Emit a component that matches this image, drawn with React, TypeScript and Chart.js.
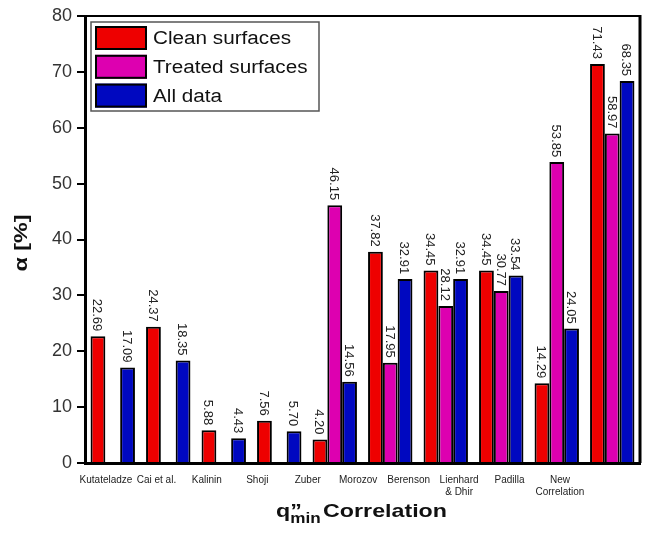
import { useEffect, useRef } from "react";
import { Chart, registerables } from "chart.js";

Chart.register(...registerables);

const categories: (string | string[])[] = [
  "Kutateladze",
  "Cai et al.",
  "Kalinin",
  "Shoji",
  "Zuber",
  "Morozov",
  "Berenson",
  ["Lienhard", "& Dhir"],
  "Padilla",
  ["New", "Correlation"],
];
const seriesNames = ["Clean surfaces", "Treated surfaces", "All data"];
const seriesColors = ["#ee0000", "#dd00b0", "#0008c0"];
const cleanSurfaces = [22.69, 24.37, 5.88, 7.56, 4.2, 37.82, 34.45, 34.45, 14.29, 71.43];
const treatedSurfaces = [null, null, null, null, 46.15, 17.95, 28.12, 30.77, 53.85, 58.97];
const allData = [17.09, 18.35, 4.43, 5.7, 14.56, 32.91, 32.91, 33.54, 24.05, 68.35];
const yTicks = [0, 10, 20, 30, 40, 50, 60, 70, 80];

const FONT = "'Liberation Sans', Arial, sans-serif";
const LABEL_MIN = -0.416;
const LABEL_MAX = 10.587;

const valueLabels = {
  id: "valueLabels",
  afterDatasetsDraw(chart: any) {
    const ctx = chart.ctx;
    ctx.save();
    ctx.font = `13px ${FONT}`;
    ctx.fillStyle = "#222";
    ctx.textAlign = "right";
    ctx.textBaseline = "middle";
    chart.data.datasets.forEach((ds: any, di: number) => {
      const meta = chart.getDatasetMeta(di);
      meta.data.forEach((el: any, i: number) => {
        const v = ds.data[i];
        if (v === null || v === undefined) return;
        ctx.save();
        ctx.translate(el.x - 1, el.y - 5);
        ctx.rotate(Math.PI / 2);
        ctx.fillText(v.toFixed(2), 0, 0);
        ctx.restore();
      });
    });
    ctx.restore();
  },
};

const frameAndTitles = {
  id: "frameAndTitles",
  afterDraw(chart: any) {
    const ctx = chart.ctx;
    const a = chart.chartArea;
    ctx.save();
    // frame top and right
    ctx.strokeStyle = "#000";
    ctx.lineWidth = 2;
    ctx.beginPath();
    ctx.moveTo(a.left, a.top);
    ctx.lineTo(a.right, a.top);
    ctx.stroke();
    ctx.lineWidth = 3;
    ctx.beginPath();
    ctx.moveTo(a.right, a.top - 1);
    ctx.lineTo(a.right, a.bottom);
    ctx.stroke();

    // legend
    const bx = 91, by = 22, bw = 228, bh = 89;
    ctx.fillStyle = "#fff";
    ctx.fillRect(bx, by, bw, bh);
    ctx.strokeStyle = "#555";
    ctx.lineWidth = 1.5;
    ctx.strokeRect(bx, by, bw, bh);
    ctx.font = `18px ${FONT}`;
    const sx = 138 / ctx.measureText(seriesNames[0]).width;
    seriesNames.forEach((name, i) => {
      const sy = 26 + i * 28.8;
      ctx.fillStyle = seriesColors[i];
      ctx.fillRect(95, sy, 52, 24);
      ctx.strokeStyle = "#000";
      ctx.lineWidth = 2;
      ctx.strokeRect(96, sy + 1, 50, 22);
      ctx.save();
      ctx.translate(153, sy + 13);
      ctx.scale(sx, 1);
      ctx.fillStyle = "#111";
      ctx.textAlign = "left";
      ctx.textBaseline = "middle";
      ctx.fillText(name, 0, 0);
      ctx.restore();
    });

    // y title
    ctx.save();
    ctx.font = `bold 18px ${FONT}`;
    const yt = "α [%]";
    const ytw = ctx.measureText(yt).width;
    ctx.translate(22, 243);
    ctx.rotate(-Math.PI / 2);
    ctx.scale(57 / ytw, 1);
    ctx.fillStyle = "#111";
    ctx.textAlign = "center";
    ctx.textBaseline = "middle";
    ctx.fillText(yt, 0, 0);
    ctx.restore();

    // x title: q''_min Correlation
    ctx.save();
    const big = `bold 19px ${FONT}`;
    const small = `bold 14px ${FONT}`;
    ctx.font = big;
    const wq = ctx.measureText("q").width;
    const wCorr = ctx.measureText("Correlation").width;
    ctx.font = small;
    const wmin = ctx.measureText("min").width;
    const natural = wq + wmin + 2 + wCorr;
    const s = 171 / natural;
    ctx.translate(361.5 - 171 / 2, 517);
    ctx.scale(s, 1);
    ctx.fillStyle = "#111";
    ctx.textAlign = "left";
    ctx.textBaseline = "alphabetic";
    ctx.font = big;
    ctx.fillText("q", 0, 0);
    ctx.fillText("\u201D", wq, 0);
    ctx.fillText("Correlation", wq + wmin + 2, 0);
    ctx.font = small;
    ctx.fillText("min", wq, 6);
    ctx.restore();

    ctx.restore();
  },
};

export default function App() {
  const ref = useRef<HTMLCanvasElement>(null);
  useEffect(() => {
    if (!ref.current) return;
    Chart.defaults.font.family = FONT;
    const series = [cleanSurfaces, treatedSurfaces, allData];
    const chart = new Chart(ref.current, {
      type: "bar",
      data: {
        labels: categories.map((c) => (Array.isArray(c) ? c.join(" ") : c)),
        datasets: series.map((d, i) => ({
          label: seriesNames[i],
          data: d as any,
          xAxisID: "x",
          yAxisID: "y",
          backgroundColor: seriesColors[i],
          borderColor: "#000",
          borderWidth: 2,
          categoryPercentage: 0.8,
          barPercentage: 1,
        })),
      },
      options: {
        responsive: false,
        animation: false,
        layout: { padding: { left: 0, top: 16, right: 5, bottom: 0 } },
        plugins: {
          legend: { display: false },
          tooltip: { enabled: false },
        },
        scales: {
          x: { type: "category", display: false, offset: true },
          xl: {
            type: "linear",
            position: "bottom",
            offset: false,
            bounds: "data",
            min: LABEL_MIN,
            max: LABEL_MAX,
            afterBuildTicks: (s: any) => {
              s.ticks = categories.map((_, i) => ({ value: i }));
              s.min = LABEL_MIN;
              s.max = LABEL_MAX;
            },
            ticks: {
              callback: (_v: any, i: number) => categories[i] as any,
              font: { size: 10, family: FONT },
              color: "#222",
              padding: 3,
              maxRotation: 0,
              autoSkip: false,
            },
            grid: { display: false, offset: false },
            border: { display: true, color: "#000", width: 3 },
            afterFit: (s: any) => {
              s.height = 71;
            },
          },
          y: {
            min: 0,
            max: 80,
            afterBuildTicks: (s: any) => {
              s.ticks = yTicks.map((v) => ({ value: v }));
            },
            ticks: {
              font: { size: 18, family: FONT },
              color: "#333",
              padding: 5,
            },
            grid: {
              drawOnChartArea: false,
              drawTicks: true,
              tickLength: 8,
              color: "#000",
              lineWidth: 2,
            },
            border: { display: true, color: "#000", width: 3 },
            afterFit: (s: any) => {
              s.width = 85;
            },
          },
        },
      },
      plugins: [valueLabels, frameAndTitles],
    });
    return () => chart.destroy();
  }, []);
  return (
    <div style={{ position: "absolute", left: 0, top: 0, width: 645, height: 534 }}>
      <canvas ref={ref} width={645} height={534} />
    </div>
  );
}
